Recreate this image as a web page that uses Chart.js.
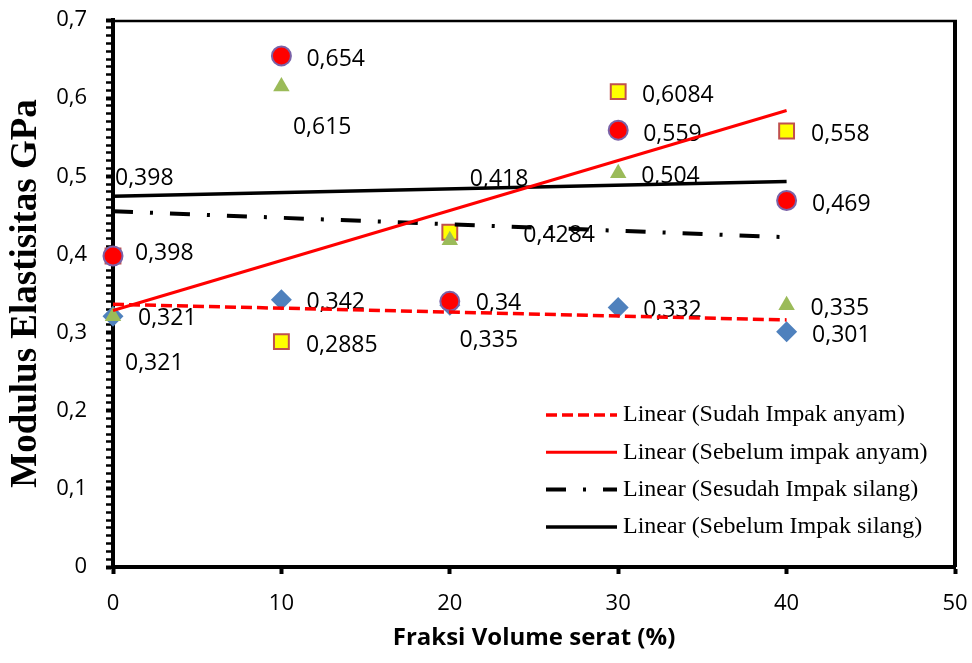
<!DOCTYPE html>
<html>
<head>
<meta charset="utf-8">
<title>Modulus Elastisitas</title>
<script src="https://cdn.jsdelivr.net/npm/chart.js@4.4.1/dist/chart.umd.min.js"></script>
<style>
  html, body { margin: 0; padding: 0; background: #ffffff; }
  #wrap { width: 972px; height: 663px; }
</style>
</head>
<body>
<div id="wrap"><canvas id="chart" width="972" height="663"></canvas></div>
<script>
// Fraksi volume serat (%) and modulus elastisitas (GPa) per specimen group
const fraksiVolume = [0, 10, 20, 30, 40];
const sudahImpakAnyam = [0.321, 0.342, 0.335, 0.332, 0.301];
const sebelumImpakAnyam = [0.398, 0.2885, 0.4284, 0.6084, 0.558];
const sesudahImpakSilang = [0.321, 0.615, 0.418, 0.504, 0.335];
const sebelumImpakSilang = [0.398, 0.654, 0.34, 0.559, 0.469];

const xTickLabels = ['0', '10', '20', '30', '40', '50'];
const yTickLabels = ['0', '0,1', '0,2', '0,3', '0,4', '0,5', '0,6', '0,7'];

// Where each value label sits relative to its marker (px: left edge, vertical centre)
const labelOffsets = {
  sudahImpakAnyam:    [[25, 0.5], [25, 0.7], [9.7, 33.3], [25, 1.4], [25.5, 2.2]],
  sebelumImpakAnyam:  [[2, -79.3], [24.5, 1.9], [73.5, 1.3], [23.8, 2.2], [24.5, 1.5]],
  sesudahImpakSilang: [[12, 45.5], [11.5, 39.6], [20, -63], [23, 1.8], [24, 1.3]],
  sebelumImpakSilang: [[22, -4.3], [25, 2], [26, 0.7], [25, 2.3], [25.5, 1.8]]
};

function toPoints(ys) {
  return fraksiVolume.map((x, i) => ({ x: x, y: ys[i] }));
}

// Least-squares linear trendline over the measured range
function linearTrend(ys) {
  const n = fraksiVolume.length;
  const mx = fraksiVolume.reduce((a, b) => a + b, 0) / n;
  const my = ys.reduce((a, b) => a + b, 0) / n;
  let sxy = 0, sxx = 0;
  for (let i = 0; i < n; i++) {
    sxy += (fraksiVolume[i] - mx) * (ys[i] - my);
    sxx += (fraksiVolume[i] - mx) * (fraksiVolume[i] - mx);
  }
  const slope = sxy / sxx;
  const icpt = my - slope * mx;
  const x0 = fraksiVolume[0], x1 = fraksiVolume[n - 1];
  return [{ x: x0, y: icpt + slope * x0 }, { x: x1, y: icpt + slope * x1 }];
}

function markerSet(label, ys, key, style, radius, fill, stroke, strokeWidth, order) {
  return {
    label: label,
    data: toPoints(ys),
    labelKey: key,
    pointStyle: style,
    pointRadius: radius,
    pointHoverRadius: radius,
    pointBackgroundColor: fill,
    pointBorderColor: stroke,
    pointBorderWidth: strokeWidth,
    showLine: false,
    clip: false,
    order: order
  };
}

function trendSet(label, ys, color, width, dash) {
  return {
    label: 'Linear (' + label + ')',
    data: linearTrend(ys),
    isTrend: true,
    showLine: true,
    borderColor: color,
    borderWidth: width,
    borderDash: dash,
    borderCapStyle: 'butt',
    pointRadius: 0,
    pointHoverRadius: 0,
    fill: false,
    clip: false,
    order: 0
  };
}

const datasets = [
  markerSet('Sudah Impak anyam', sudahImpakAnyam, 'sudahImpakAnyam', 'rectRot', 10.5, '#4F81BD', '#4F81BD', 0, 4),
  markerSet('Sebelum impak anyam', sebelumImpakAnyam, 'sebelumImpakAnyam', 'rect', 10.5, '#FFFF00', '#C0504D', 2, 3),
  markerSet('Sebelum Impak silang', sebelumImpakSilang, 'sebelumImpakSilang', 'circle', 9.5, '#FF0000', '#7A62A8', 2, 2),
  markerSet('Sesudah Impak silang', sesudahImpakSilang, 'sesudahImpakSilang', 'triangle', 9.5, '#9BBB59', '#9BBB59', 0, 1),
  trendSet('Sudah Impak anyam', sudahImpakAnyam, '#FF0000', 3.5, [11, 5]),
  trendSet('Sebelum impak anyam', sebelumImpakAnyam, '#FF0000', 3, []),
  trendSet('Sesudah Impak silang', sesudahImpakSilang, '#000000', 4, [20, 17, 3, 17]),
  trendSet('Sebelum Impak silang', sebelumImpakSilang, '#000000', 3.5, [])
];

// Top and right edges of the plot frame
const plotFrame = {
  id: 'plotFrame',
  beforeDatasetsDraw(chart) {
    const a = chart.chartArea;
    const c = chart.ctx;
    c.save();
    c.strokeStyle = '#000';
    c.lineWidth = 2.5;
    c.beginPath();
    c.moveTo(a.left, a.top + 1);
    c.lineTo(a.right + 2, a.top + 1);
    c.stroke();
    c.lineWidth = 4;
    c.beginPath();
    c.moveTo(a.right, a.top);
    c.lineTo(a.right, a.bottom);
    c.stroke();
    c.restore();
  }
};

// Value labels next to each marker
const valueLabels = {
  id: 'valueLabels',
  beforeDatasetsDraw(chart) {
    const c = chart.ctx;
    const size = 23;
    c.save();
    c.font = size + 'px "Open Sans"';
    c.fillStyle = '#000';
    c.textAlign = 'left';
    c.textBaseline = 'alphabetic';
    chart.data.datasets.forEach((ds, di) => {
      if (!ds.labelKey) return;
      const meta = chart.getDatasetMeta(di);
      const offs = labelOffsets[ds.labelKey];
      meta.data.forEach((pt, i) => {
        const txt = String(ds.data[i].y).replace('.', ',');
        const o = offs[i];
        c.fillText(txt, pt.x + o[0], pt.y + o[1] + size * 0.357);
      });
    });
    c.restore();
  }
};

// Legend for the trendlines, inside the plot at lower right
const trendLegend = {
  id: 'trendLegend',
  afterDatasetsDraw(chart) {
    const c = chart.ctx;
    const x0 = 546, y0 = 415, rowGap = 37.3, sample = 71, gap = 6;
    c.save();
    c.font = '24px "Liberation Serif"';
    c.fillStyle = '#000';
    c.textAlign = 'left';
    c.textBaseline = 'middle';
    let row = 0;
    chart.data.datasets.forEach((ds) => {
      if (!ds.isTrend) return;
      const y = y0 + row * rowGap;
      c.strokeStyle = ds.borderColor;
      c.lineWidth = ds.borderWidth;
      c.lineCap = 'butt';
      c.setLineDash(ds.borderDash || []);
      c.beginPath();
      c.moveTo(x0, y);
      c.lineTo(x0 + sample, y);
      c.stroke();
      c.setLineDash([]);
      c.fillText(ds.label, x0 + sample + gap, y);
      row++;
    });
    c.restore();
  }
};

new Chart(document.getElementById('chart'), {
  type: 'scatter',
  data: { datasets: datasets },
  plugins: [plotFrame, valueLabels, trendLegend],
  options: {
    responsive: false,
    animation: false,
    events: [],
    layout: { padding: { top: 20, right: 17, bottom: 0, left: 0 } },
    plugins: {
      legend: { display: false },
      tooltip: { enabled: false }
    },
    scales: {
      x: {
        type: 'linear',
        position: 'bottom',
        min: 0,
        max: 50,
        afterFit(s) {
          s.height = 96;
          s.paddingLeft = 0;
          s.paddingRight = 0;
        },
        ticks: {
          stepSize: 10,
          autoSkip: false,
          maxRotation: 0,
          padding: 17,
          color: '#000',
          font: { family: 'Open Sans', size: 22 },
          callback: (v) => xTickLabels[Math.round(v / 10)]
        },
        grid: {
          drawOnChartArea: false,
          drawTicks: true,
          tickLength: 7,
          tickWidth: 4,
          tickColor: '#000'
        },
        border: { display: true, color: '#000', width: 4 },
        title: {
          display: true,
          text: 'Fraksi Volume serat (%)',
          color: '#000',
          font: { family: 'Open Sans', size: 24, weight: 'bold' },
          padding: { top: 0, bottom: 10 }
        }
      },
      y: {
        type: 'linear',
        position: 'left',
        min: 0,
        max: 0.7,
        afterFit(s) {
          s.width = 113;
          s.paddingTop = 0;
          s.paddingBottom = 0;
        },
        ticks: {
          stepSize: 0.01,
          autoSkip: false,
          padding: 19,
          color: '#000',
          font: { family: 'Open Sans', size: 22 },
          callback: (v) => {
            const k = Math.round(v * 100);
            return k % 10 === 0 ? yTickLabels[k / 10] : '';
          }
        },
        grid: {
          drawOnChartArea: false,
          drawTicks: true,
          tickLength: 7,
          tickColor: '#000',
          tickWidth: (ctx) => (ctx.tick && Math.round(ctx.tick.value * 100) % 10 === 0 ? 4 : 2.5)
        },
        border: { display: true, color: '#000', width: 4 },
        title: {
          display: true,
          text: 'Modulus Elastisitas GPa',
          color: '#000',
          font: { family: 'Liberation Serif', size: 37, weight: 'bold' },
          padding: { top: 4, bottom: 0 }
        }
      }
    }
  }
});
</script>
</body>
</html>
